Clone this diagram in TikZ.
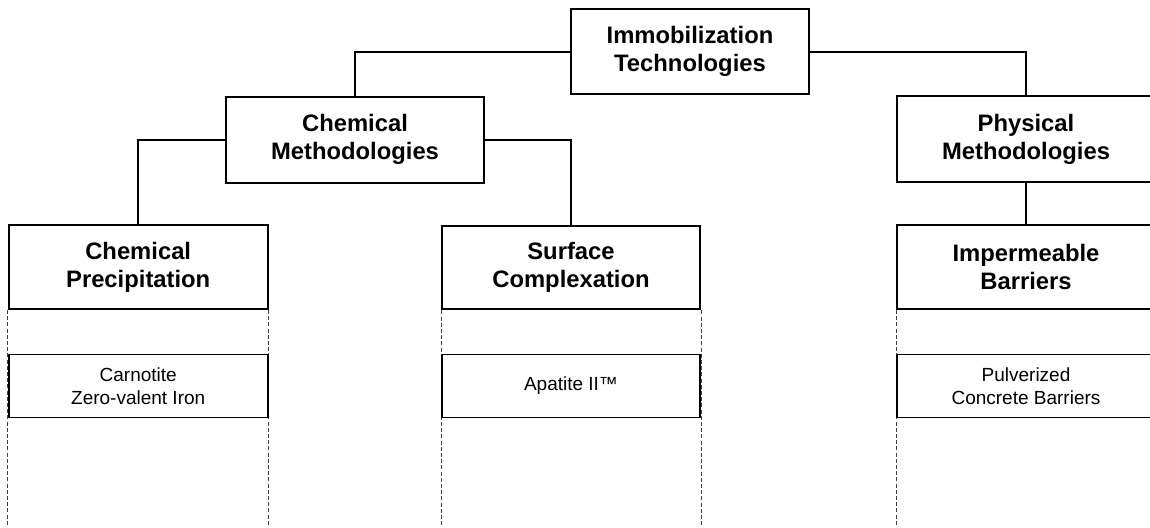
\documentclass[tikz,border=0pt]{standalone}
\usepackage{fontspec}
\setmainfont{Liberation Sans}
\usetikzlibrary{backgrounds}
\begin{document}
\begin{tikzpicture}[x=1pt,y=-1pt,
  headbox/.style={draw, line width=2pt, fill=white, align=center, inner sep=0pt,
    font=\bfseries\fontsize{23.8}{28}\selectfont},
  listbox/.style={draw, line width=1.8pt, fill=white, align=center, inner sep=0pt,
    minimum width=258pt, minimum height=63pt, font=\fontsize{19}{23.3}\selectfont},
  link/.style={line width=2pt},
  guide/.style={line width=0.8pt, draw=black!75, dash pattern=on 4pt off 2.2pt}]
\useasboundingbox (0,0) rectangle (1150,527);
\clip (0,0) rectangle (1150,527);
\coordinate (base) at (0,527);

% tree of methods
\node[headbox, minimum width=237.5pt, minimum height=85pt] (root) at (690,51.8) {Immobilization\\Technologies};
\node[headbox, minimum width=258pt, minimum height=86pt] (chem) at (355,139.7) {Chemical\\Methodologies};
\node[headbox, minimum width=258pt, minimum height=86.6pt] (phys) at (1026,139) {Physical\\Methodologies};
\node[headbox, minimum width=259pt, minimum height=84pt] (prec) at (138.2,267) {Chemical\\Precipitation};
\node[headbox, minimum width=258pt, minimum height=83.5pt] (surf) at (571,267.6) {Surface\\Complexation};
\node[headbox, minimum width=258pt, minimum height=84pt] (barr) at (1026,267) {Impermeable\\Barriers};

% examples under each approach
\node[listbox, minimum width=259pt] (ex1) at (138.2,386) {Carnotite\\Zero-valent Iron};
\node[listbox] (ex2) at (571,386) {Apatite II™};
\node[listbox] (ex3) at (1026,386) {Pulverized\\Concrete Barriers};

% connectors
\draw[link] (root.west) -| (chem.north);
\draw[link] (root.east) -| (phys.north);
\draw[link] (chem.west) -| (prec.north);
\draw[link] (chem.east) -| (surf.north);
\draw[link] (phys.south) -- (barr.north);

% column guides
\begin{scope}[on background layer]
  \foreach \n in {prec, surf, barr} {
    \draw[guide] (\n.south west) -- (\n.south west |- base);
    \draw[guide] (\n.south east) -- (\n.south east |- base);
  }
\end{scope}
\end{tikzpicture}
\end{document}
